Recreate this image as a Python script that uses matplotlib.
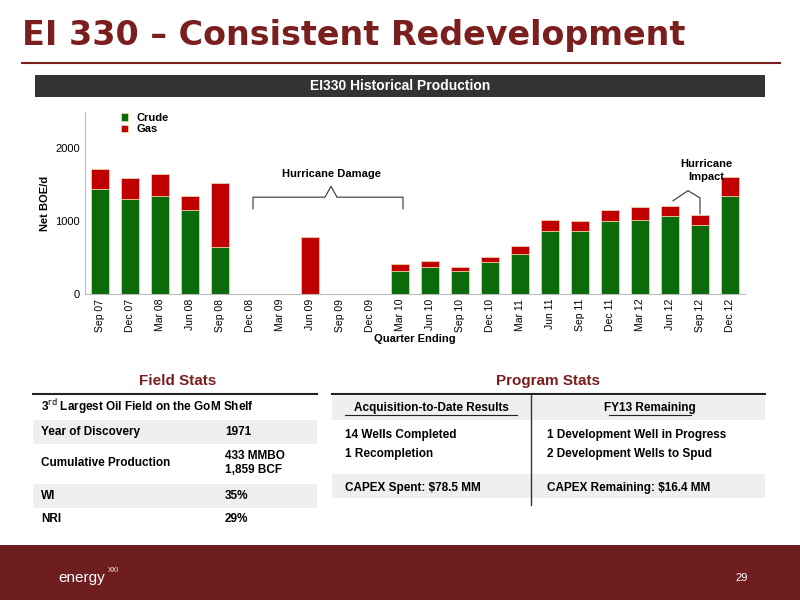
import matplotlib.pyplot as plt
import numpy as np
from matplotlib.patches import Rectangle

plt.rcParams['font.family'] = ['Liberation Sans', 'DejaVu Sans']

# Data
quarters = ['Sep 07', 'Dec 07', 'Mar 08', 'Jun 08', 'Sep 08', 'Dec 08', 'Mar 09', 'Jun 09',
            'Sep 09', 'Dec 09', 'Mar 10', 'Jun 10', 'Sep 10', 'Dec 10', 'Mar 11', 'Jun 11',
            'Sep 11', 'Dec 11', 'Mar 12', 'Jun 12', 'Sep 12', 'Dec 12']
crude = [1440, 1300, 1340, 1150, 650, 0, 0, 0, 0, 3, 310, 370, 320, 440, 550, 860,
         860, 1000, 1020, 1070, 950, 1340]
total = [1720, 1600, 1650, 1350, 1525, 0, 0, 780, 0, 6, 410, 450, 375, 515, 660, 1020,
         1000, 1155, 1195, 1210, 1080, 1610]
gas = [t - c for t, c in zip(total, crude)]

field_rows = [('Year of Discovery', '1971'), ('Cumulative Production', '433 MMBO\n1,859 BCF'),
              ('WI', '35%'), ('NRI', '29%')]

RED = '#7B1E1E'
GREEN = '#0B6B0B'
GASRED = '#C00000'

fig = plt.figure(figsize=(8, 6), dpi=100, facecolor='white')
W, H = 800, 600

def fx(x): return x / W
def fy(y): return 1 - y / H

def box(x, y, w, h, color):
    fig.patches.append(Rectangle((fx(x), fy(y + h)), w / W, h / H, transform=fig.transFigure,
                                 facecolor=color, edgecolor='none', zorder=0))

def hline(x0, x1, y, color='#222222', lw=1.5):
    fig.add_artist(plt.Line2D([fx(x0), fx(x1)], [fy(y), fy(y)], color=color, lw=lw))

# Title
fig.text(fx(22), fy(36), 'EI 330 \u2013 Consistent Redevelopment', color=RED, fontsize=24,
         fontweight='heavy', va='center', family='DejaVu Sans')
hline(22, 780, 63, color=RED, lw=1.5)
box(35, 75, 730, 22, '#333333')
fig.text(0.5, fy(86), 'EI330 Historical Production', color='white', fontsize=10,
         fontweight='bold', ha='center', va='center')

# Chart
ax = fig.add_axes([fx(85), fy(294), (745 - 85) / W, (294 - 112) / H])
x = np.arange(len(quarters))
ax.bar(x, crude, width=0.62, color=GREEN, edgecolor='#E8E0B0', linewidth=0.5, label='Crude')
ax.bar(x, gas, width=0.62, bottom=crude, color=GASRED, edgecolor='#E8E0B0', linewidth=0.5, label='Gas')
ax.set_xlim(-0.5, len(quarters) - 0.5)
ax.set_ylim(0, 2500)
ax.set_yticks([0, 1000, 2000])
ax.set_xticks(x)
ax.set_xticklabels(quarters, rotation=90, fontsize=7.5)
ax.tick_params(axis='y', labelsize=8, length=0)
ax.tick_params(axis='x', length=0)
for s in ['top', 'right']:
    ax.spines[s].set_visible(False)
ax.spines['left'].set_color('#BBBBBB')
ax.spines['bottom'].set_color('#BBBBBB')
ax.set_ylabel('Net BOE/d', fontsize=8, fontweight='bold')
ax.set_xlabel('Quarter Ending', fontsize=8, fontweight='bold', labelpad=1)
ax.legend(loc='upper left', bbox_to_anchor=(0.04, 1.05), frameon=False, fontsize=8,
          handlelength=0.6, handleheight=0.6, labelspacing=0.1, prop={'weight': 'bold', 'size': 8})

# Hurricane damage brace
ax.plot([5.1, 5.1, 7.5, 7.7, 7.9, 10.1, 10.1], [1170, 1330, 1330, 1480, 1330, 1330, 1170],
        color='#333333', lw=0.8)
ax.text(7.7, 1610, 'Hurricane Damage', ha='center', fontsize=8, fontweight='bold')
ax.plot([19.1, 19.6, 20.0, 20.0], [1280, 1420, 1320, 1100], color='#333333', lw=0.8)
ax.text(20.2, 1570, 'Hurricane\nImpact', ha='center', fontsize=8, fontweight='bold',
        linespacing=1.3)

# Field stats
fig.text(fx(178), fy(381), 'Field Stats', color=RED, fontsize=11, fontweight='bold',
         ha='center', va='center')
hline(33, 317, 394)
fig.text(fx(41), fy(407), r'3$^{\rm rd}$ Largest Oil Field on the GoM Shelf', fontsize=8.5,
         fontweight='bold', va='center')
box(33, 420, 284, 24, '#EFEFEF')
box(33, 484, 284, 24, '#EFEFEF')
row_y = [432, 463, 496, 519]
for (k, v), yy in zip(field_rows, row_y):
    fig.text(fx(41), fy(yy), k, fontsize=8.5, fontweight='bold', va='center')
    fig.text(fx(225), fy(yy), v, fontsize=8.5, fontweight='bold', va='center', linespacing=1.2)

# Program stats
fig.text(fx(548), fy(381), 'Program Stats', color=RED, fontsize=11, fontweight='bold',
         ha='center', va='center')
hline(332, 765, 394)
box(332, 396, 433, 24, '#EFEFEF')
box(332, 474, 433, 24, '#EFEFEF')
fig.add_artist(plt.Line2D([fx(531), fx(531)], [fy(394), fy(505)], color='#333333', lw=1))
fig.text(fx(431), fy(408), 'Acquisition-to-Date Results', fontsize=8.5, fontweight='bold',
         ha='center', va='center')
fig.text(fx(650), fy(408), 'FY13 Remaining', fontsize=8.5, fontweight='bold',
         ha='center', va='center')
hline(345, 517, 415, color='#222222', lw=0.8)
hline(609, 691, 415, color='#222222', lw=0.8)
fig.text(fx(345), fy(435), '14 Wells Completed', fontsize=8.5, fontweight='bold', va='center')
fig.text(fx(345), fy(454), '1 Recompletion', fontsize=8.5, fontweight='bold', va='center')
fig.text(fx(547), fy(435), '1 Development Well in Progress', fontsize=8.5, fontweight='bold', va='center')
fig.text(fx(547), fy(454), '2 Development Wells to Spud', fontsize=8.5, fontweight='bold', va='center')
fig.text(fx(345), fy(488), 'CAPEX Spent: $78.5 MM', fontsize=8.5, fontweight='bold', va='center')
fig.text(fx(547), fy(488), 'CAPEX Remaining: $16.4 MM', fontsize=8.5, fontweight='bold', va='center')

# Footer
box(0, 545, 800, 55, '#6E1E1E')
fig.text(fx(58), fy(578), 'energy', color='white', fontsize=11, va='center')
fig.text(fx(108), fy(571), 'XXI', color='white', fontsize=5, va='center')
fig.text(fx(748), fy(578), '29', color='white', fontsize=8, ha='right', va='center')

fig.savefig('out.png', dpi=100, facecolor='white')
